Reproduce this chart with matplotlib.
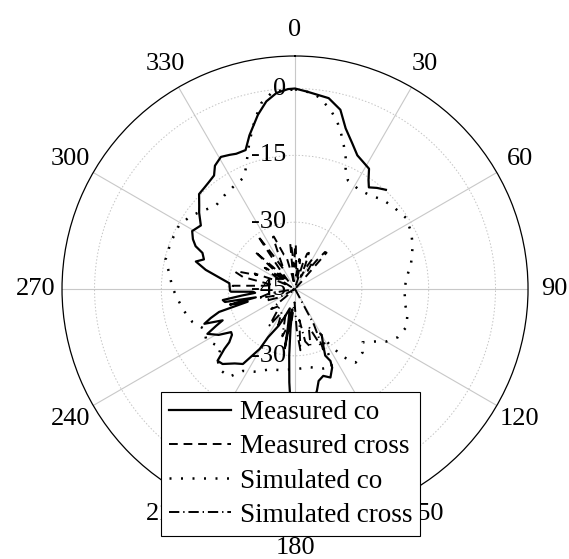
import numpy as np
import matplotlib.pyplot as plt
from matplotlib.transforms import offset_copy

plt.rcParams['font.family'] = ['Liberation Serif', 'DejaVu Serif']

# angles in degrees (clockwise from top), levels in dB
meas_co_deg = [150, 153.8, 155.6, 153.8, 154.7, 158.2, 162, 165.6, 167.9, 171, 174, 177,
               180, 182, 183.5, 185, 186.5, 187.6, 188.5, 189.8, 190.5, 195, 200, 204,
               209.2, 210.5, 214.8, 219, 224, 227.2, 229.7, 231, 234, 236, 239, 242.9,
               245, 246.6, 249, 251, 253.2, 255, 256.5, 258, 259.5, 261.3, 263, 264.5,
               266.3, 267.6, 268.5, 275, 279.1, 282.1, 285.5, 288, 291.3, 293.3, 296,
               299.4, 304, 308.5, 311, 314.7, 318, 321, 324.5, 327, 330.7, 334, 336.5,
               340.4, 343.5, 348, 351.3, 354.6, 358, 360, 363.4, 370, 374.2, 377.5,
               381.5, 385, 388, 391.6, 394, 396, 399, 402.5]
meas_co_db = [-33, -30.5, -28.6, -27, -25.5, -23.6, -24.5, -23.7, -21.6, -19.5, -17, -15.5,
              -15, -18, -24, -30, -36, -40.4, -38, -31.5, -36, -40.5, -38.5, -36,
              -32.6, -29.4, -24.5, -23.5, -21.6, -21.3, -24.2, -26, -27.5, -27.7, -25, -22.9,
              -25.5, -27.3, -23.2, -25, -27.2, -34, -30, -36, -29, -28.6, -33, -36,
              -35.5, -30.6, -30.4, -30.2, -27.4, -24.5, -21.9, -23.5, -22.7, -20.7, -19.5,
              -18.5, -19.5, -17.5, -16.5, -14.7, -14.5, -14.2, -13.7, -12, -11.0, -11.5, -11.9,
              -11.9, -9.0, -5.0, -2.4, -0.8, -0.1, 0, -0.6, -1.5, -3.5, -7.2,
              -9.9, -11.9, -12.6, -13.3, -15.5, -16.8, -15.8, -14.8]

meas_x_deg = [-88, -87, -84, -80, -77, -74, -73, -70, -69, -65, -62, -58, -55, -54, -50,
              -47, -45, -41, -38, -35, -33, -30, -26, -23, -22, -18, -15, -12, -10, -7,
              -6, -5, -2, 0, 1, 3, 5, 8, 10, 12, 14, 17, 19, 21, 23, 25, 28, 30, 33,
              35, 37, 39, 41, 45]
meas_x_db = [-31, -31, -38, -40, -33, -31, -31.6, -35.9, -35.3, -41, -44, -40, -36.7, -37.1, -42,
             -32.6, -38, -43, -39.6, -30.4, -36, -40, -37, -32.3, -32.3, -36.9, -37.3, -42, -44, -39.8,
             -34.6, -35, -40, -35, -35, -40, -42, -38.2, -38.4, -41, -44, -39, -36.6, -36.3, -39,
             -42, -39, -37.2, -38, -40, -37, -34.3, -34.2, -45]

sim_co_deg = [0, 5, 7.5, 11.2, 14.1, 16.5, 18.7, 21, 22.8, 26, 32.9, 39.1, 44.5, 50.6,
              57.5, 64.2, 70, 77.4, 85.3, 90.5, 97.5, 103.2, 108.9, 115.1, 120, 123.6,
              128.3, 133.2, 140.5, 144.5, 148, 150.6, 153, 154.7, 160, 169, 180, 190,
              197.5, 205, 212.5, 216.8, 223.4, 227.9, 231.8, 240, 246.4, 252.2, 258.8,
              265.4, 271, 276.4, 282.7, 290.3, 298.5, 305, 310.1, 316.4, 322.8, 329.6,
              335.7, 338.4, 342.8, 346.6, 349.7, 353.7, 360]
sim_co_db = [-0.2, -0.8, -1.8, -4.0, -6.2, -8.6, -10.9, -13.3, -15.7, -17.9, -18.5, -18.0, -16.9, -16.2,
             -15.4, -16.0, -16.9, -18.3, -20.0, -20.4, -20.1, -19.1, -18.6, -19.5, -21.4, -23.7,
             -25.7, -24.2, -23.6, -26.2, -30.0, -33.5, -28, -25.5, -26, -27.1, -27, -26.5,
             -26.1, -24.5, -23.2, -20.4, -20.2, -21.6, -23.8, -22, -22.7, -20.8, -19.6,
             -18.5, -17.4, -16.7, -15.2, -15.2, -15.3, -16.4, -17.8, -19.2, -18.7, -18.1,
             -17.4, -15.2, -10.4, -6.0, -2.6, -0.35, -0.2]

sim_x_deg = [148, 152, 155, 160, 165, 169, 172, 175, 177.6, 182, 186, 190, 195, 200, 205,
             210, 215, 222, 230, 236, 242, 248, 252, 256, 260, 264]
sim_x_db = [-45, -36, -30, -36, -31.5, -33, -38, -31.2, -35.8, -42, -38, -37, -34, -38.7, -36,
            -39, -35, -40, -38, -45, -41, -38, -40, -36.5, -39, -45]

r_min, r_max = -45, 7.3
r_ticks = [-45, -30, -15, 0]
theta_ticks = list(range(0, 360, 30))

fig = plt.figure(figsize=(5.69, 5.59), dpi=100)
ax = fig.add_axes([0.109, 0.066, 0.819, 0.834], projection='polar')
ax.set_theta_zero_location('N')
ax.set_theta_direction(-1)
ax.set_ylim(r_min, r_max)


def polar_xy(deg, db):
    return np.deg2rad(deg), np.clip(db, r_min, None)


ax.plot(*polar_xy(meas_co_deg, meas_co_db), color='k', lw=1.6, label='Measured co')
ax.plot(*polar_xy(meas_x_deg, meas_x_db), color='k', lw=1.4, ls=(0, (4.5, 3)),
        label='Measured cross')
ax.plot(*polar_xy(sim_co_deg, sim_co_db), color='k', lw=1.8, ls=(0, (0.8, 3.8)),
        label='Simulated co')
ax.plot(*polar_xy(sim_x_deg, sim_x_db), color='k', lw=1.4, ls=(0, (5.3, 2, 0.7, 2)),
        label='Simulated cross')

# grid
ax.set_yticks(r_ticks)
ax.set_yticklabels([])
ax.yaxis.grid(True, color='#c4c4c4', lw=0.7, ls=(0, (1.5, 2)))
ax.set_xticks(np.deg2rad(theta_ticks))
ax.set_xticklabels([str(t) for t in theta_ticks])
ax.set_xticks(np.deg2rad(np.arange(15, 360, 30)), minor=True)
ax.xaxis.grid(True, which='major', color='#c8c8c8', lw=0.8, ls='-')
ax.tick_params(axis='x', which='major', direction='in', length=8, width=0.8,
               pad=12, labelsize=19)
ax.tick_params(axis='x', which='minor', direction='in', length=3.5, width=0.8)
ax.spines['polar'].set_linewidth(0.9)

# radial labels, just left of the 0 deg spoke
lab_tr = offset_copy(ax.transData, fig=fig, x=-9, y=0, units='dots')
for r in r_ticks:
    ax.text(0, r, str(r), transform=lab_tr, ha='right', va='center', fontsize=19)
ax.text(np.pi, -30, '-30', transform=lab_tr, ha='right', va='center', fontsize=19)

leg = ax.legend(loc='upper left', bbox_to_anchor=(161 / 569, 1 - 392 / 559),
                bbox_transform=fig.transFigure, fontsize=19.5, fancybox=False,
                framealpha=1, edgecolor='k', handlelength=2.3, handletextpad=0.3,
                borderpad=0.3, labelspacing=0.34, borderaxespad=0)
leg.get_frame().set_linewidth(0.8)
leg.set_zorder(10)

fig.savefig('out.png', dpi=100)
